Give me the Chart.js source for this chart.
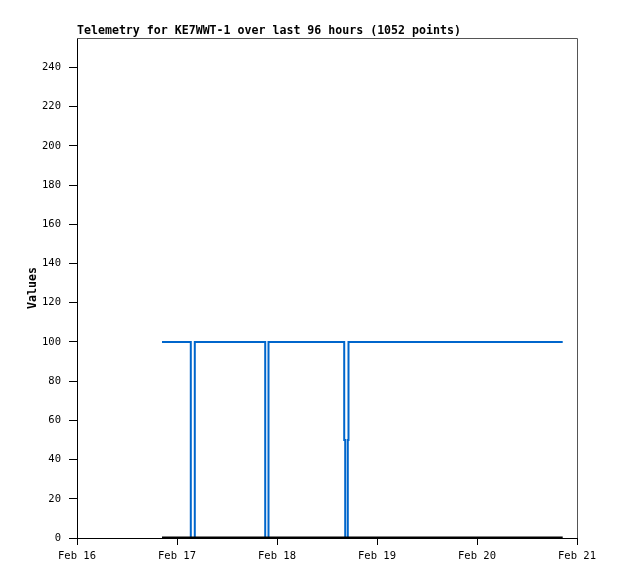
<!DOCTYPE html>
<html>
<head>
<meta charset="utf-8">
<script src="https://cdn.jsdelivr.net/npm/chart.js@4/dist/chart.umd.min.js"></script>
<style>
  html, body { margin: 0; padding: 0; background: #fff; }
  canvas { display: block; }
</style>
</head>
<body>
<canvas id="c" width="618" height="579"></canvas>
<script>
// ---- data (x in hours since Feb 16 00:00) ----
const titleText = "Telemetry for KE7WWT-1 over last 96 hours (1052 points)";
const yAxisTitle = "Values";
const xTickLabels = ["Feb 16", "Feb 17", "Feb 18", "Feb 19", "Feb 20", "Feb 21"];
const xTickHours = [0, 24, 48, 72, 96, 120];
const yTickValues = [0, 20, 40, 60, 80, 100, 120, 140, 160, 180, 200, 220, 240];
const yMax = 255;

// blue series: step values (value held until next time)
const blueTimes  = [20.4, 27.31, 28.27, 45.17, 45.96, 64.13, 64.37, 64.99, 65.16, 116.57];
const blueValues = [100,  0,     100,   0,     100,   50,    0,     50,    100,   100];

// black series
const blackTimes  = [20.4, 116.57];
const blackValues = [0, 0];

const toPoints = (ts, vs) => ts.map((t, i) => ({ x: t, y: vs[i] }));

const FONT_MONO = "'DejaVu Sans Mono', 'Liberation Mono', monospace";

const frame = {
  id: 'frame',
  afterDraw(chart) {
    const { ctx, chartArea: a } = chart;
    ctx.save();
    ctx.strokeStyle = '#555555';
    ctx.lineWidth = 1;
    ctx.beginPath();
    ctx.moveTo(a.left, Math.round(a.top) + 0.5);
    ctx.lineTo(Math.round(a.right) + 0.5, Math.round(a.top) + 0.5);
    ctx.lineTo(Math.round(a.right) + 0.5, a.bottom);
    ctx.stroke();
    ctx.fillStyle = '#000';
    ctx.font = "bold 11.6px " + FONT_MONO;
    ctx.textBaseline = 'alphabetic';
    ctx.textAlign = 'left';
    ctx.fillText(titleText, 77, 34);
    ctx.restore();
  }
};

new Chart(document.getElementById('c'), {
  type: 'line',
  data: {
    datasets: [
      {
        data: toPoints(blackTimes, blackValues),
        borderColor: '#000000',
        borderWidth: 3,
        pointRadius: 0,
        stepped: true,
        fill: false
      },
      {
        data: toPoints(blueTimes, blueValues),
        borderColor: '#0066cc',
        borderWidth: 2,
        pointRadius: 0,
        stepped: true,
        fill: false
      }
    ]
  },
  options: {
    responsive: false,
    devicePixelRatio: 1,
    animation: false,
    layout: { padding: { left: 0, right: 41, top: 38, bottom: 0 } },
    plugins: { legend: { display: false }, tooltip: { enabled: false }, title: { display: false } },
    scales: {
      x: {
        type: 'linear',
        min: xTickHours[0],
        max: xTickHours[xTickHours.length - 1],
        afterBuildTicks: s => { s.ticks = xTickHours.map(v => ({ value: v })); },
        afterFit: s => { s.height = 41; },
        grid: { drawOnChartArea: false, drawTicks: true, tickLength: 7, color: '#000' },
        border: { color: '#000', width: 1 },
        ticks: {
          color: '#000',
          padding: 5,
          maxRotation: 0,
          autoSkip: false,
          font: { family: FONT_MONO, size: 10.5 },
          callback: v => xTickLabels[xTickHours.indexOf(v)]
        }
      },
      y: {
        min: 0,
        max: yMax,
        afterBuildTicks: s => { s.ticks = yTickValues.map(v => ({ value: v })); },
        afterFit: s => { s.width = 77; },
        grid: { drawOnChartArea: false, drawTicks: true, tickLength: 8, color: '#000' },
        border: { color: '#000', width: 1 },
        ticks: {
          color: '#000',
          padding: 8,
          autoSkip: false,
          font: { family: FONT_MONO, size: 10.5 }
        },
        title: {
          display: true,
          text: yAxisTitle,
          color: '#000',
          font: { family: FONT_MONO, size: 11.6, weight: 'bold' },
          padding: { top: 26, bottom: 0 }
        }
      }
    }
  },
  plugins: [frame]
});
</script>
</body>
</html>
